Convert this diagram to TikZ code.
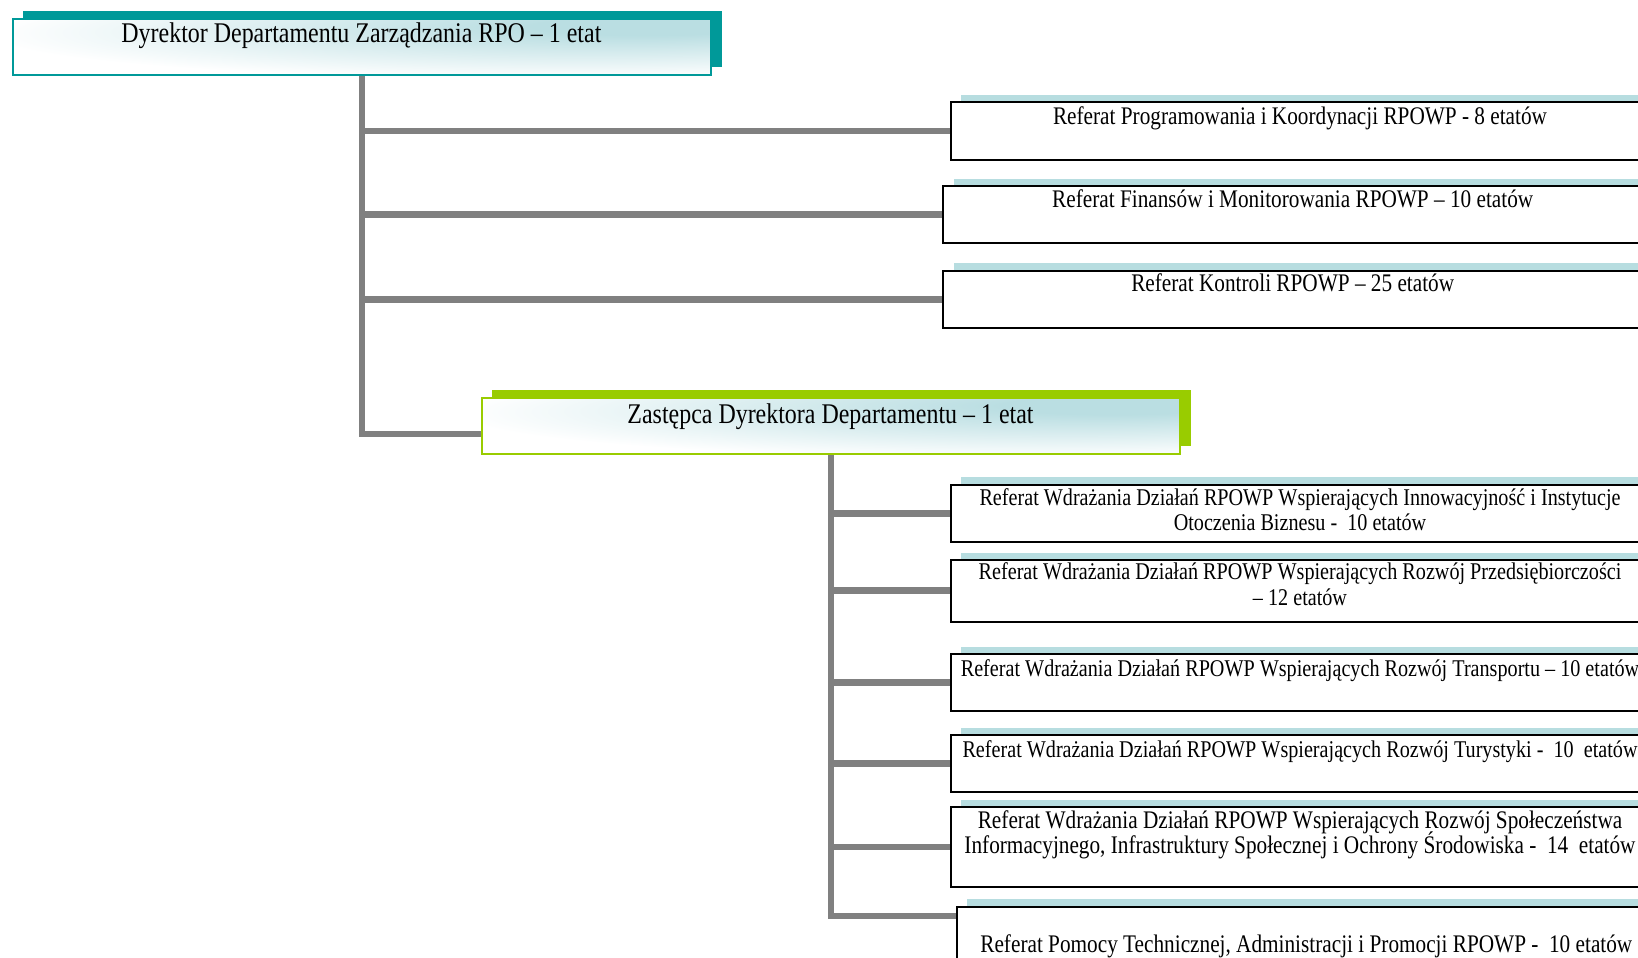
\documentclass[tikz,border=0pt]{standalone}
\usepackage{fontspec}
\setmainfont[FakeStretch=0.84]{Liberation Serif}
\usetikzlibrary{shadows}

\definecolor{dyrteal}{RGB}{0,153,153}
\definecolor{zastgreen}{RGB}{153,204,0}
\definecolor{refblue}{RGB}{183,221,224}
\definecolor{tintblue}{RGB}{186,222,226}
\definecolor{linegray}{RGB}{128,128,128}
\pgfdeclareradialshading{cornertint}{\pgfpoint{22bp}{20bp}}{color(0bp)=(tintblue); color(8bp)=(tintblue); color(40bp)=(white); color(100bp)=(white)}
\newcommand{\tightlines}{\lineskiplimit-20pt\lineskip0pt\relax}

\tikzset{
  conn/.style={draw=linegray, line width=6.5pt},
  headbox/.style={draw=#1, line width=2pt, shade, shading=cornertint, minimum width=698.8pt, minimum height=56.4pt, inner sep=0pt, anchor=north west,
    general shadow={fill=#1, shadow xshift=10.4pt, shadow yshift=8pt}},
  refbox/.style={draw=black, line width=2pt, fill=white, minimum width=699pt, inner sep=0pt, anchor=north west,
    general shadow={fill=refblue, shadow xshift=10.4pt, shadow yshift=7.3pt}},
  headtext/.style={font=\fontsize{28.5}{30}\selectfont, anchor=base, inner sep=0pt},
  reftext/.style={font=\fontsize{25.3}{25.1}\selectfont\tightlines, align=center, anchor=base, inner sep=0pt},
  smalltext/.style={reftext, font=\fontsize{24}{25.1}\selectfont\tightlines},
}

\begin{document}
\begin{tikzpicture}[x=1pt, y=-1pt]
\useasboundingbox (0,0) rectangle (1638,958);
\clip (0,0) rectangle (1638,958);

\node[headbox=dyrteal] (dyr) at (11.5,17.8) {};
\node[headtext] (dyrlab) at (361.4,42.8) {Dyrektor Departamentu Zarządzania RPO – 1 etat};

\node[refbox, minimum height=57.5pt] (prog) at (949.5,101.3) {};
\node[refbox, minimum height=57.4pt] (fin) at (942.2,184.9) {};
\node[refbox, minimum height=57.5pt] (kontr) at (942.2,269.5) {};
\node[reftext] (proglab) at ([yshift=-23pt]prog.north) {Referat Programowania i Koordynacji RPOWP - 8 etatów};
\node[reftext] (finlab) at ([yshift=-23pt]fin.north) {Referat Finansów i Monitorowania RPOWP – 10 etatów};
\node[reftext] (kontrlab) at ([yshift=-22pt]kontr.north) {Referat Kontroli RPOWP – 25 etatów};

\node[headbox=zastgreen] (zast) at (480.5,397) {};
\node[headtext] (zastlab) at (830.5,423.1) {Zastępca Dyrektora Departamentu – 1 etat};

\node[refbox, minimum height=57.4pt] (innow) at (949.5,483.7) {};
\node[refbox, minimum height=61.6pt] (przeds) at (949.5,558.9) {};
\node[refbox, minimum height=57.4pt] (transp) at (949.5,652.9) {};
\node[refbox, minimum height=56.4pt] (turyst) at (949.5,734.4) {};
\node[refbox, minimum height=79.4pt] (spol) at (949.5,806.4) {};
\node[refbox, minimum height=80pt] (pomoc) at (955.8,905.7) {};
\node[smalltext] (innowlab) at ([yshift=-47.1pt]innow.north) {Referat Wdrażania Działań RPOWP Wspierających Innowacyjność i Instytucje\\Otoczenia Biznesu -~ 10 etatów};
\node[smalltext] (przedslab) at ([yshift=-46.1pt]przeds.north) {Referat Wdrażania Działań RPOWP Wspierających Rozwój Przedsiębiorczości\\– 12 etatów};
\node[smalltext] (transplab) at ([yshift=-24pt]transp.north) {Referat Wdrażania Działań RPOWP Wspierających Rozwój Transportu – 10 etatów};
\node[smalltext] (turystlab) at ([yshift=-23pt]turyst.north) {Referat Wdrażania Działań RPOWP Wspierających Rozwój Turystyki -~ 10~ etatów};
\node[reftext] (spollab) at ([yshift=-47.1pt]spol.north) {Referat Wdrażania Działań RPOWP Wspierających Rozwój Społeczeństwa\\Informacyjnego, Infrastruktury Społecznej i Ochrony Środowiska -~ 14~ etatów};
\node[reftext] (pomoclab) at ([yshift=-47pt]pomoc.north) {Referat Pomocy Technicznej, Administracji i Promocji RPOWP -~ 10 etatów};

\draw[conn] (dyr.south) |- (prog.west);
\draw[conn] (dyr.south) |- (fin.west);
\draw[conn] (dyr.south) |- (kontr.west);
\draw[conn] (dyr.south) |- ([yshift=-7.8pt]zast.west);

\draw[conn] (zast.south) |- (innow.west);
\draw[conn] (zast.south) |- (przeds.west);
\draw[conn] (zast.south) |- (transp.west);
\draw[conn] (zast.south) |- (turyst.west);
\draw[conn] (zast.south) |- (spol.west);
\draw[conn] (zast.south) |- ([yshift=-10.4pt]pomoc.north west);
\end{tikzpicture}
\end{document}
